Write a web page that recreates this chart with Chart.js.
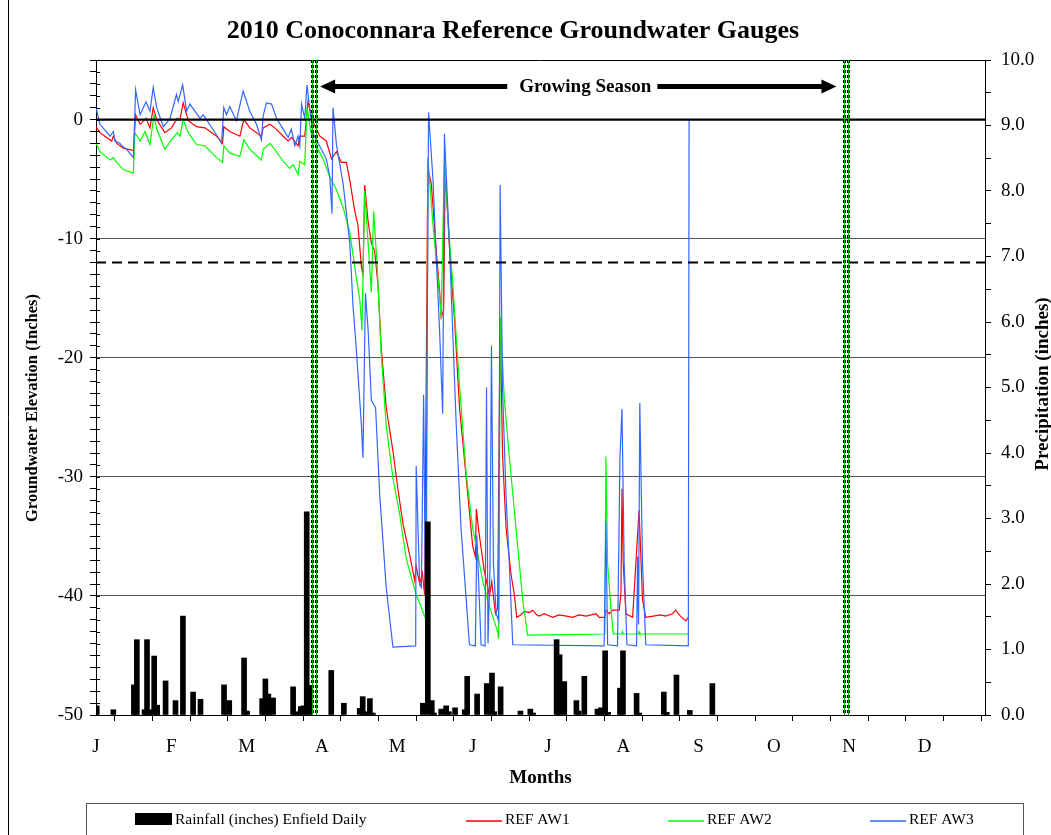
<!DOCTYPE html>
<html>
<head>
<meta charset="utf-8">
<title>2010 Conoconnara Reference Groundwater Gauges</title>
<script src="https://cdn.jsdelivr.net/npm/chart.js@4.4.1/dist/chart.umd.min.js"></script>
<style>
  html, body { margin: 0; padding: 0; background: #fff; }
  #wrap { width: 1051px; height: 835px; }
</style>
</head>
<body>
<div id="wrap"><canvas id="gaugeChart" width="1051" height="835"></canvas></div>
<script>
// gauges.js - 2010 Conoconnara reference groundwater gauges with daily rainfall

// Month initials, one label per month (ticks fall every half month)
const monthLabels = ['J', 'F', 'M', 'A', 'M', 'J', 'J', 'A', 'S', 'O', 'N', 'D'];

// REF AW1 (red) - day of year / water level in inches
const aw1Days = [0, 1.6, 4.3, 6.3, 7, 8.4, 11, 15.1, 16, 17.8, 20.2, 21.8, 23.1, 24.5, 27.8, 30.5, 32.8, 33.9, 35.2, 37.3,
    40.6, 44, 48.7, 51.1, 51.6, 54, 58.1, 59.7, 62.1, 66.8, 67.5, 70.2, 72.2, 75.6, 77.6, 79, 81.6, 82.3, 84.3, 85.6, 87.4,
    90.4, 93, 95.1, 97.1, 99.1, 101.1, 102.5, 104.5, 105.8, 107.2, 107.8, 108.5, 109.9, 111.2, 112.5, 113.9, 115.2, 117.2,
    119.9, 121.9, 124, 126.7, 128.7, 129.3, 130.7, 131.8, 132.7, 134, 135.4, 137.4, 138.8, 139.4, 140.4, 141, 142.8, 144.8,
    146.8, 149.5, 152.1, 153.2, 153.6, 154.6, 156.8, 158.9, 159.8, 161.3, 162.2, 163.2, 164.2, 165.6, 167.6, 169, 169.9,
    171.5, 173, 175, 176.3, 178, 179, 181, 184.4, 187, 190, 192.5, 195, 198, 201.9, 203.2, 205.5, 205.9, 207.3, 208.6,
    211.3, 212, 212.4, 212.9, 214, 216.7, 219.3, 220.7, 222, 225, 228, 230, 232.8, 234.1, 236, 238.2, 239.2];
const aw1Values = [-0.6, -1.1, -1.5, -1.8, -1.4, -2.0, -2.4, -2.6, 0.4, -0.4, 0.1, -0.7, 1.0, 0.0, -1.1, -0.7, 0.1, 0, 1.4, -0.1,
    -0.6, -0.7, -1.4, -2.0, -0.6, -1.0, -1.4, 0, -0.7, -1.4, -0.7, -0.4, -0.7, -1.4, -1.8, -1.5, -2.2, -1.4, -1.4, 1.5, -0.1,
    -1.4, -1.8, -3.3, -2.7, -3.6, -3.6, -5.1, -7.7, -8.9, -12.4, -13.0, -5.5, -8.6, -10.4, -11.0, -13.9, -19.2, -24.2,
    -27.8, -31.0, -34.0, -36.6, -38.7, -37.5, -39.0, -38.1, -39.9, -4.0, -5.4, -11.0, -14.5, -16.6, -16.0, -4.2, -11.0, -16.9,
    -24.2, -30.1, -35.8, -36.7, -32.7, -34.6, -37.9, -40.0, -38.8, -41.5, -41.0, -16.8, -28.3, -34.3, -38.2, -40.0, -41.8,
    -41.6, -41.3, -41.4, -41.2, -41.6, -41.7, -41.5, -41.8, -41.6, -41.7, -41.8, -41.6, -41.7, -41.5, -41.8, -41.8, -41.2, -41.5, -41.2,
    -41.2, -39.7, -31.0, -37.3, -41.5, -41.8, -32.8, -40.3, -41.8, -41.7, -41.6, -41.7, -41.5, -41.2, -41.7, -42.1, -41.8];

// REF AW2 (green)
const aw2Days = [0, 1.6, 5.7, 7, 8.4, 11, 15.1, 15.7, 17.8, 19.8, 21.8, 23.4, 24.5, 27.8, 30.5, 32.8, 33.9, 35.2, 37.3, 40.6,
    44, 48.7, 51.1, 51.6, 54, 58.1, 59.7, 62.1, 66.8, 67.5, 70.2, 72.2, 75.6, 78.2, 79.6, 81.6, 82.3, 84.3, 85.2, 87, 88.3,
    91.7, 94.4, 97.1, 99.8, 102.5, 104.5, 106.5, 107.4, 108.5, 109.9, 111.2, 112.1, 113.5, 115.2, 117.2, 119.9, 122.6, 125.3,
    129.3, 131.4, 133.4, 134, 136.1, 138.1, 139.4, 140.7, 142.5, 144.1, 145, 146.8, 149.5, 152.1, 153.5, 156.2, 158.9, 162.2,
    162.6, 163.3, 164.9, 166.9, 169.6, 172.3, 174.3, 205.5, 205.9, 206.6, 207.9, 208.9, 212.3, 212.6, 212.9, 219, 219.3,
    219.6, 239.2];
const aw2Values = [-2.0, -2.7, -3.4, -3.2, -3.6, -4.2, -4.5, -1.1, -1.8, -1.0, -2.1, 0.4, -0.8, -2.5, -1.7, -1.1, -1.4, 0, -1.1, -2.1,
    -2.2, -3.2, -3.6, -2.2, -2.8, -3.1, -1.7, -2.5, -3.4, -2.5, -2.0, -2.5, -3.5, -4.1, -3.8, -4.6, -3.5, -3.8, 1.0, -1.3, -2.0,
    -3.3, -4.8, -5.9, -7.4, -9.5, -12.4, -15.1, -17.7, -6.0, -10.4, -14.5, -7.7, -12.1, -19.8, -25.7, -30.1, -33.1, -36.9,
    -39.9, -41.0, -42.1, -3.2, -8.9, -13.3, -16.6, -3.3, -9.5, -13.8, -16.8, -22.3, -29.8, -34.3, -35.8, -38.8, -40.9, -43.0,
    -43.6, -16.6, -23.5, -28.3, -34.3, -40.3, -43.3, -43.2, -28.3, -37.3, -40.9, -43.2, -43.2, -43.0, -43.2, -43.2, -43.0,
    -43.2, -43.2];

// REF AW3 (blue)
const aw3Days = [0, 1.6, 5.7, 7, 7.7, 9.7, 10.4, 12.4, 15.1, 16, 17.8, 20.2, 21.8, 23.1, 24.5, 27.2, 29.9, 32.5, 33.2, 35,
    36.6, 37.9, 42, 43.3, 48.7, 50.7, 51.6, 52.7, 54, 56.7, 59.4, 62.1, 64.8, 66.8, 67.5, 68.8, 70.9, 72.9, 75.6, 77.6, 78.9,
    80.3, 81.6, 82.3, 83, 84.3, 85.2, 86.6, 87.7, 93, 94.4, 95.3, 95.7, 97.1, 99.8, 102.5, 103.8, 105.1, 107.2, 107.8, 108.8,
    109.9, 111.2, 112.9, 114.6, 117.2, 119.9, 129.1, 129.3, 130.7, 131.4, 132.3, 133.1, 134.3, 136.1, 137.4, 138.8, 140.0,
    140.7, 142.7, 144.1, 145.4, 147.4, 149.5, 150.8, 153.2, 153.8, 155.5, 157.1, 157.7, 158.3, 159.1, 159.7, 160.5, 161.6,
    162.6, 163.2, 164.2, 165.6, 166.9, 168.3, 205.2, 205.9, 206.6, 210.6, 211.6, 212.4, 213.3, 214.4, 218.3, 218.7, 219.1,
    219.6, 220.7, 222.0, 239.2, 239.5];
const aw3Values = [1.0, -0.4, -1.4, -1.0, -1.8, -2.0, -2.2, -2.5, -3.2, 2.5, 0.4, 1.5, 0.7, 2.7, 1.0, -0.6, 0.1, 2.1, 1.5, 2.9,
    0.7, 1.3, 0.1, 0.4, -1.3, -2.0, 1.0, 0.4, 1.1, -0.1, 2.4, 0.7, -0.4, -1.7, 0.3, 1.4, 1.3, 0.1, -0.8, -1.5, -0.8,
    -2.2, -1.4, -2.2, 1.3, 0.1, 2.9, 0.4, -1.2, -3.3, -4.8, -7.9, 1.0, -2.1, -5.4, -10.4, -15.7, -19.2, -25.7, -28.4, -14.6,
    -17.7, -23.6, -24.2, -31.6, -39.3, -44.3, -44.2, -29.1, -39.0, -39.3, -23.1, -41.9, 0.6, -5.1, -11.5, -18.0, -24.7,
    -1.2, -10.3, -18.1, -25.3, -34.3, -40.3, -44.1, -44.2, -34.9, -44.1, -44.2, -22.5, -44.0, -37.8, -19.0, -37.3, -41.5,
    -42.1, -5.5, -22.9, -31.6, -37.3, -44.1, -44.2, -33.7, -44.1, -44.2, -28.3, -24.3, -37.3, -44.1, -44.2, -36.7, -42.4,
    -23.8, -37.3, -44.1, -44.2, 0.0];

// Rainfall (inches) Enfield Daily
const rainDays = [0.3, 7, 15.3, 16.5, 19.6, 20.6, 22, 23.5, 24.7, 28.1, 32.1, 35.1, 39.2, 42.2, 51.7, 53.8, 59.8, 61, 67.1,
    68.4, 69.6, 71.5, 79.6, 80.9, 82.7, 83.9, 85.1, 86.3, 95, 100.1, 106.5, 107.7, 109, 110.6, 111.8, 132, 134, 135.6, 136.5,
    139.4, 141.4, 142.5, 145, 148.9, 149.9, 153.9, 157.8, 159.9, 160.8, 163.4, 171.4, 175.4, 176.5, 186, 187.2, 189.1, 194,
    194.9, 197.2, 202.5, 203.9, 205.6, 206.8, 211.6, 212.8, 218.3, 219.4, 229.3, 230.5, 234.4, 239.8, 248.9];
const rainInches = [0.14, 0.08, 0.46, 1.15, 0.08, 1.15, 0.08, 0.90, 0.15, 0.52, 0.22, 1.51, 0.35, 0.24, 0.46, 0.22, 0.87, 0.06, 0.25,
    0.55, 0.32, 0.26, 0.43, 0.05, 0.13, 0.14, 3.10, 0.45, 0.68, 0.18, 0.10, 0.28, 0.05, 0.25, 0.03, 0.18, 2.95, 0.22, 0.03,
    0.09, 0.14, 0.05, 0.11, 0.08, 0.59, 0.32, 0.48, 0.64, 0.05, 0.43, 0.06, 0.09, 0.03, 1.15, 0.92, 0.51, 0.22,
    0.06, 0.59, 0.09, 0.11, 0.98, 0.04, 0.41, 0.98, 0.33, 0.03, 0.35, 0.04, 0.61, 0.07, 0.48];

// Reference levels and growing season markers (data units)
const surfaceLevel = 0;
const targetLevel = -12;
const seasonLineDays = [87.2, 88.8, 302.1, 303.7];
const seasonArrowDays = [90.5, 299];
const seasonLabelDay = 197.6;
const arrowLevel = 2.77;

const SERIF = "'Liberation Serif', 'Times New Roman', serif";

function toPoints(days, values) {
    return days.map((d, i) => ({ x: d, y: values[i] }));
}

// Half-month tick positions along the year
function halfMonthTicks() {
    const ticks = [];
    for (let k = 0; k < 24; k++) ticks.push({ value: k * 365 / 24 });
    return ticks;
}

function drawLine(ctx, x1, y1, x2, y2) {
    ctx.beginPath();
    ctx.moveTo(x1, y1);
    ctx.lineTo(x2, y2);
    ctx.stroke();
}

// Extra drawing: reference lines, season markers, titles and legend
const gaugeDecorations = {
    id: 'gaugeDecorations',
    beforeDraw(chart) {
        const ctx = chart.ctx;
        ctx.save();
        ctx.fillStyle = '#fff';
        ctx.fillRect(0, 0, chart.width, chart.height);
        ctx.restore();
    },
    afterDatasetsDraw(chart) {
        const { ctx, chartArea: area, scales } = chart;
        const x = scales.x, y = scales.y;
        ctx.save();

        // plot frame top
        ctx.strokeStyle = '#000';
        ctx.lineWidth = 1;
        drawLine(ctx, area.left, area.top + 0.5, area.right, area.top + 0.5);

        // surface line and target depth
        const y0 = y.getPixelForValue(surfaceLevel);
        ctx.lineWidth = 2.2;
        drawLine(ctx, area.left, y0, area.right, y0);
        const yt = y.getPixelForValue(targetLevel);
        ctx.lineWidth = 2;
        ctx.setLineDash([10, 6]);
        drawLine(ctx, area.left, yt, area.right, yt);

        // growing season start / end lines
        seasonLineDays.forEach(d => {
            const px = Math.round(x.getPixelForValue(d)) + 0.5;
            ctx.setLineDash([3, 2]);
            ctx.strokeStyle = '#000';
            ctx.lineWidth = 3;
            drawLine(ctx, px, area.top, px, area.bottom);
            ctx.setLineDash([]);
            ctx.strokeStyle = '#00b000';
            ctx.lineWidth = 1;
            drawLine(ctx, px, area.top, px, area.bottom);
        });

        // growing season arrow
        const ay = y.getPixelForValue(arrowLevel);
        const xl = x.getPixelForValue(seasonArrowDays[0]);
        const xr = x.getPixelForValue(seasonArrowDays[1]);
        const xm = x.getPixelForValue(seasonLabelDay);
        ctx.font = 'bold 19px ' + SERIF;
        const tw = ctx.measureText('Growing Season').width;
        ctx.strokeStyle = '#000';
        ctx.fillStyle = '#000';
        ctx.lineWidth = 5;
        drawLine(ctx, xl + 12, ay, xm - tw / 2 - 12, ay);
        drawLine(ctx, xm + tw / 2 + 6, ay, xr - 12, ay);
        ctx.beginPath();
        ctx.moveTo(xl, ay);
        ctx.lineTo(xl + 15, ay - 7);
        ctx.lineTo(xl + 15, ay + 7);
        ctx.closePath();
        ctx.fill();
        ctx.beginPath();
        ctx.moveTo(xr, ay);
        ctx.lineTo(xr - 15, ay - 7);
        ctx.lineTo(xr - 15, ay + 7);
        ctx.closePath();
        ctx.fill();
        ctx.textAlign = 'center';
        ctx.textBaseline = 'middle';
        ctx.fillText('Growing Season', xm, ay + 1);

        ctx.restore();
    },
    afterDraw(chart) {
        const { ctx, chartArea: area, scales } = chart;
        ctx.save();
        ctx.fillStyle = '#000';
        ctx.strokeStyle = '#000';

        // inner half of the left axis tick marks
        ctx.lineWidth = 1;
        scales.y.ticks.forEach(t => {
            const py = Math.round(scales.y.getPixelForValue(t.value)) + 0.5;
            drawLine(ctx, area.left, py, area.left + 4, py);
        });

        // outer chart frame (left edge visible)
        drawLine(ctx, 8.5, 0, 8.5, chart.height);

        // chart title
        ctx.textAlign = 'center';
        ctx.textBaseline = 'middle';
        ctx.font = 'bold 26px ' + SERIF;
        ctx.fillText('2010 Conoconnara Reference Groundwater Gauges', 513, 31);

        // x axis title
        ctx.font = 'bold 19px ' + SERIF;
        ctx.fillText('Months', (area.left + area.right) / 2, 778);

        // left axis title
        ctx.save();
        ctx.translate(33, 408);
        ctx.rotate(-Math.PI / 2);
        ctx.font = 'bold 16.5px ' + SERIF;
        ctx.fillText('Groundwater Elevation (Inches)', 0, 0);
        ctx.restore();

        // right axis title
        ctx.save();
        ctx.translate(1043, 384);
        ctx.rotate(-Math.PI / 2);
        ctx.font = 'bold 19px ' + SERIF;
        ctx.fillText('Precipitation (inches)', 0, 0);
        ctx.restore();

        // legend box
        ctx.lineWidth = 1;
        ctx.strokeStyle = '#555';
        ctx.strokeRect(86.5, 803.5, 937, 60);
        ctx.font = '15.5px ' + SERIF;
        ctx.textAlign = 'left';
        ctx.fillStyle = '#000';
        ctx.fillRect(135, 813, 37, 12);
        ctx.fillText('Rainfall (inches) Enfield Daily', 175, 820);
        const legendLines = [
            { color: '#ff0000', label: 'REF AW1', x: 466 },
            { color: '#00ff00', label: 'REF AW2', x: 668 },
            { color: '#3366ff', label: 'REF AW3', x: 870 }
        ];
        legendLines.forEach(item => {
            ctx.strokeStyle = item.color;
            ctx.lineWidth = 1.5;
            drawLine(ctx, item.x, 821, item.x + 36, 821);
            ctx.fillStyle = '#000';
            ctx.fillText(item.label, item.x + 39, 820);
        });

        ctx.restore();
    }
};

function initializeGaugeChart() {
    const canvas = document.getElementById('gaugeChart');
    if (!canvas) {
        console.error('Gauge chart canvas not found');
        return;
    }

    const tickFont = { family: SERIF, size: 19 };

    return new Chart(canvas.getContext('2d'), {
        type: 'line',
        data: {
            datasets: [
                {
                    type: 'bar',
                    label: 'Rainfall (inches) Enfield Daily',
                    data: toPoints(rainDays, rainInches),
                    yAxisID: 'y2',
                    backgroundColor: '#000',
                    borderWidth: 0,
                    barThickness: 5,
                    order: 0
                },
                {
                    label: 'REF AW1',
                    data: toPoints(aw1Days, aw1Values),
                    yAxisID: 'y',
                    borderColor: '#ff0000',
                    borderWidth: 1.2,
                    pointRadius: 0,
                    tension: 0,
                    fill: false,
                    order: 3
                },
                {
                    label: 'REF AW2',
                    data: toPoints(aw2Days, aw2Values),
                    yAxisID: 'y',
                    borderColor: '#00ff00',
                    borderWidth: 1.2,
                    pointRadius: 0,
                    tension: 0,
                    fill: false,
                    order: 2
                },
                {
                    label: 'REF AW3',
                    data: toPoints(aw3Days, aw3Values),
                    yAxisID: 'y',
                    borderColor: '#3366ff',
                    borderWidth: 1.2,
                    pointRadius: 0,
                    tension: 0,
                    fill: false,
                    order: 1
                }
            ]
        },
        options: {
            responsive: false,
            animation: false,
            events: [],
            layout: { padding: { top: 60, left: 0, right: 0, bottom: 0 } },
            plugins: {
                legend: { display: false },
                title: { display: false },
                tooltip: { enabled: false }
            },
            scales: {
                x: {
                    type: 'linear',
                    min: 0,
                    max: 359,
                    offset: false,
                    afterBuildTicks: scale => { scale.ticks = halfMonthTicks(); },
                    afterFit: scale => { scale.height = 120; },
                    ticks: {
                        autoSkip: false,
                        maxRotation: 0,
                        padding: 15,
                        color: '#000',
                        font: tickFont,
                        callback: (value, index) => index % 2 === 0 ? monthLabels[index / 2] : ''
                    },
                    grid: { drawOnChartArea: false, tickLength: 6, tickColor: '#000' },
                    border: { color: '#000', width: 1 }
                },
                y: {
                    type: 'linear',
                    position: 'left',
                    min: -50,
                    max: 5,
                    afterFit: scale => { scale.width = 96; },
                    ticks: {
                        stepSize: 1,
                        autoSkip: false,
                        padding: 7,
                        color: '#000',
                        font: tickFont,
                        callback: value => value % 10 === 0 ? String(value) : ''
                    },
                    grid: {
                        color: ctx => {
                            const v = ctx.tick ? ctx.tick.value : 1;
                            return (v % 10 === 0 && v < 0 && v > -50) ? '#555' : 'rgba(0,0,0,0)';
                        },
                        lineWidth: 1,
                        tickLength: 6,
                        tickColor: '#000'
                    },
                    border: { color: '#000', width: 1 }
                },
                y2: {
                    type: 'linear',
                    position: 'right',
                    min: 0,
                    max: 10,
                    afterFit: scale => { scale.width = 66; },
                    ticks: {
                        stepSize: 0.5,
                        autoSkip: false,
                        padding: 10,
                        color: '#000',
                        font: tickFont,
                        callback: value => value % 1 === 0 ? value.toFixed(1) : ''
                    },
                    grid: { drawOnChartArea: false, tickLength: 6, tickColor: '#000' },
                    border: { color: '#000', width: 1 }
                }
            }
        },
        plugins: [gaugeDecorations]
    });
}

initializeGaugeChart();
</script>
</body>
</html>
